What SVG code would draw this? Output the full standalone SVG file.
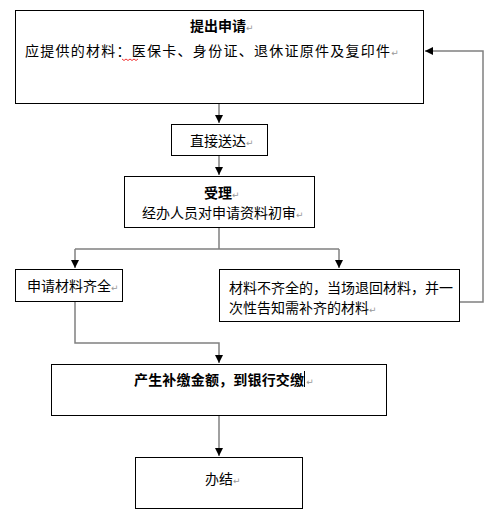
<svg xmlns="http://www.w3.org/2000/svg" width="494" height="520" viewBox="0 0 494 520">
<style>
.box{fill:#fff;stroke:#000;stroke-width:1}
.t{font-family:"Noto Sans CJK SC","Liberation Sans",sans-serif;font-size:14px;fill:#000}
.b{font-weight:bold}
.pm{font-family:"DejaVu Sans",sans-serif;font-size:9px;fill:#999;font-weight:normal}
.c{fill:none;stroke:#808080;stroke-width:1.5}
</style>
<defs>
<marker id="ah" markerUnits="userSpaceOnUse" markerWidth="9" markerHeight="8" refX="8" refY="4" orient="auto">
<path d="M0,0 L8,4 L0,8 z" fill="#000"/>
</marker>
</defs>
<rect width="494" height="520" fill="#fff"/>
<g id="connectors">
<path class="c" d="M219,104 V123" marker-end="url(#ah)"/>
<path class="c" d="M219,156 V175" marker-end="url(#ah)"/>
<path class="c" d="M219,228 V249 M75,249 H339"/>
<path class="c" d="M75,249 V268" marker-end="url(#ah)"/>
<path class="c" d="M339,249 V268" marker-end="url(#ah)"/>
<path class="c" d="M460,302 H483 V51 H425" marker-end="url(#ah)"/>
<path class="c" d="M75,302 V343 H219 V363" marker-end="url(#ah)"/>
<path class="c" d="M219,416 V456" marker-end="url(#ah)"/>
</g>
<g id="n1">
<rect class="box" x="15.5" y="10.5" width="408" height="93"/>
<text class="t b" x="190" y="31">提出申请<tspan class="pm">↵</tspan></text>
<text class="t" x="25" y="56"><tspan textLength="365" lengthAdjust="spacing">应提供的材料：医保卡、身份证、退休证原件及复印件</tspan><tspan class="pm">↵</tspan></text>
<path d="M122,59 l2,1.5 l2,-1.5 l2,1.5 l2,-1.5 l2,1.5 l2,-1.5 l2,1.5 l2,-1.5" fill="none" stroke="#e00" stroke-width="0.8"/>
</g>
<g id="n2">
<rect class="box" x="171.5" y="124.5" width="96" height="31"/>
<text class="t" x="190" y="146">直接送达<tspan class="pm">↵</tspan></text>
</g>
<g id="n3">
<rect class="box" x="124.5" y="176.5" width="190" height="51"/>
<text class="t b" x="204" y="198">受理<tspan class="pm">↵</tspan></text>
<text class="t" x="142" y="218">经办人员对申请资料初审<tspan class="pm">↵</tspan></text>
</g>
<g id="n4">
<rect class="box" x="15.5" y="269.5" width="107" height="32"/>
<text class="t" x="27" y="291">申请材料齐全<tspan class="pm">↵</tspan></text>
</g>
<g id="n5">
<rect class="box" x="219.5" y="269.5" width="240" height="52"/>
<text class="t" x="229" y="293">材料不齐全的，当场退回材料，并一</text>
<text class="t" x="229" y="313">次性告知需补齐的材料<tspan class="pm">↵</tspan></text>
</g>
<g id="n6">
<rect class="box" x="51.5" y="364.5" width="335" height="51"/>
<text class="t b" x="134" y="385"><tspan textLength="170" lengthAdjust="spacing">产生补缴金额，到银行交缴</tspan><tspan class="pm" dx="2">↵</tspan></text>
<line x1="304.5" y1="371" x2="304.5" y2="387" stroke="#000" stroke-width="1"/>
</g>
<g id="n7">
<rect class="box" x="135.5" y="457.5" width="167" height="51"/>
<text class="t" x="205" y="484">办结<tspan class="pm">↵</tspan></text>
</g>
</svg>
